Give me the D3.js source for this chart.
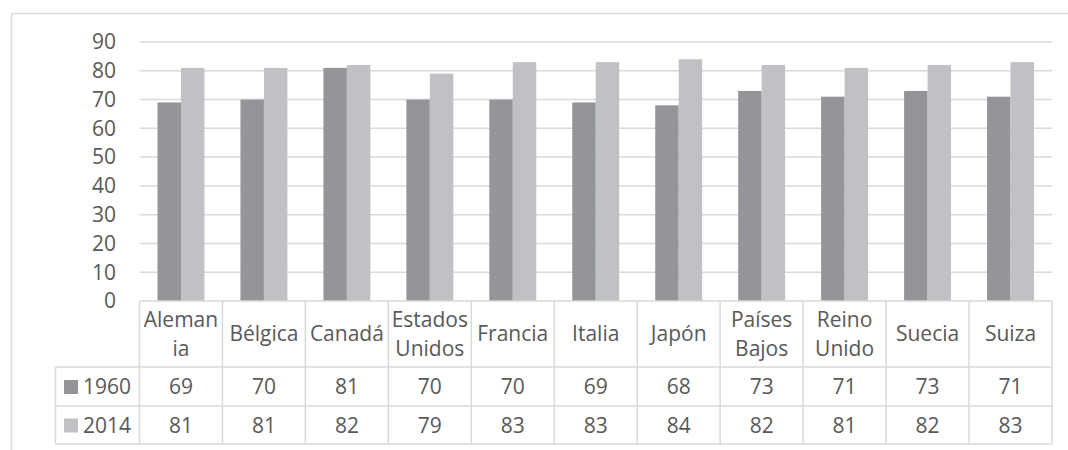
<!DOCTYPE html>
<html>
<head>
<meta charset="utf-8">
<script src="https://cdn.jsdelivr.net/npm/d3@7"></script>
<style>
  body { margin: 0; background: #fff; }
  svg text { font-family: "Open Sans", "Noto Sans", sans-serif; fill: #595959; }
</style>
</head>
<body>
<div id="chart"></div>
<script>
const categories = ["Alemania", "Bélgica", "Canadá", "Estados Unidos", "Francia", "Italia", "Japón", "Países Bajos", "Reino Unido", "Suecia", "Suiza"];
const categoryLines = [["Aleman", "ia"], ["Bélgica"], ["Canadá"], ["Estados", "Unidos"], ["Francia"], ["Italia"], ["Japón"], ["Países", "Bajos"], ["Reino", "Unido"], ["Suecia"], ["Suiza"]];
const seriesNames = ["1960", "2014"];
const values1960 = [69, 70, 81, 70, 70, 69, 68, 73, 71, 73, 71];
const values2014 = [81, 81, 82, 79, 83, 83, 84, 82, 81, 82, 83];
const yTicks = [0, 10, 20, 30, 40, 50, 60, 70, 80, 90];

const width = 1068;
const height = 450;
const colors = ["#939598", "#c0c1c4"];
const lineColor = "#d9d9d9";
const fontSize = "21px";
const series = [values1960, values2014];

const svg = d3.select("#chart")
  .append("svg")
  .attr("width", width)
  .attr("height", height);

// outer frame (partly cropped)
svg.append("path")
  .attr("d", "M11.5,460 V13.5 H1080")
  .attr("fill", "none")
  .attr("stroke", lineColor)
  .attr("stroke-width", 1.5);

const x = d3.scaleBand().domain(categories).range([139.5, 1052]).padding(0);
const y = d3.scaleLinear().domain([0, 90]).range([301, 42]);

// gridlines
svg.append("g")
  .selectAll("line")
  .data(yTicks.slice(1))
  .join("line")
  .attr("x1", 139.5)
  .attr("x2", 1052)
  .attr("y1", d => y(d))
  .attr("y2", d => y(d))
  .attr("stroke", lineColor)
  .attr("stroke-width", 1.5);

// y labels
svg.append("g")
  .selectAll("text")
  .data(yTicks)
  .join("text")
  .attr("x", 116)
  .attr("y", d => y(d))
  .attr("dy", "0.35em")
  .attr("text-anchor", "end")
  .style("font-size", fontSize)
  .text(d => d);

// bars
const barW = x.bandwidth() * 0.283;
series.forEach((vals, s) => {
  svg.append("g")
    .selectAll("rect")
    .data(vals)
    .join("rect")
    .attr("x", (d, i) => x(categories[i]) + x.bandwidth() / 2 - barW + s * barW)
    .attr("y", d => y(d))
    .attr("width", barW)
    .attr("height", d => y(0) - y(d))
    .attr("fill", colors[s]);
});

// data table
const rowTop = [301, 367, 406, 444];
const legendLeft = 55.5;
const tbl = svg.append("g")
  .attr("stroke", lineColor)
  .attr("stroke-width", 1.5)
  .attr("fill", "none");

tbl.append("line").attr("x1", 139.5).attr("x2", 1052).attr("y1", rowTop[0]).attr("y2", rowTop[0]);
rowTop.slice(1).forEach(ty => {
  tbl.append("line").attr("x1", legendLeft).attr("x2", 1052).attr("y1", ty).attr("y2", ty);
});
tbl.append("line").attr("x1", legendLeft).attr("x2", legendLeft).attr("y1", rowTop[1]).attr("y2", rowTop[3]);
categories.forEach(c => {
  tbl.append("line").attr("x1", x(c)).attr("x2", x(c)).attr("y1", rowTop[0]).attr("y2", rowTop[3]);
});
tbl.append("line").attr("x1", 1052).attr("x2", 1052).attr("y1", rowTop[0]).attr("y2", rowTop[3]);

// category labels
const headMid = (rowTop[0] + rowTop[1]) / 2;
categoryLines.forEach((lines, i) => {
  const t = svg.append("text")
    .attr("text-anchor", "middle")
    .style("font-size", fontSize);
  lines.forEach((ln, k) => {
    t.append("tspan")
      .attr("x", x(categories[i]) + x.bandwidth() / 2)
      .attr("y", headMid + (k - (lines.length - 1) / 2) * 29)
      .attr("dy", "0.35em")
      .text(ln);
  });
});

// value rows and legend keys
series.forEach((vals, s) => {
  const mid = (rowTop[s + 1] + rowTop[s + 2]) / 2 + 0.5;
  svg.append("rect")
    .attr("x", 64)
    .attr("y", mid - 7)
    .attr("width", 14)
    .attr("height", 14)
    .attr("fill", colors[s]);
  svg.append("text")
    .attr("x", 83)
    .attr("y", mid)
    .attr("dy", "0.35em")
    .style("font-size", fontSize)
    .text(seriesNames[s]);
  svg.append("g")
    .selectAll("text")
    .data(vals)
    .join("text")
    .attr("x", (d, i) => x(categories[i]) + x.bandwidth() / 2)
    .attr("y", mid)
    .attr("dy", "0.35em")
    .attr("text-anchor", "middle")
    .style("font-size", fontSize)
    .text(d => d);
});
</script>
</body>
</html>
